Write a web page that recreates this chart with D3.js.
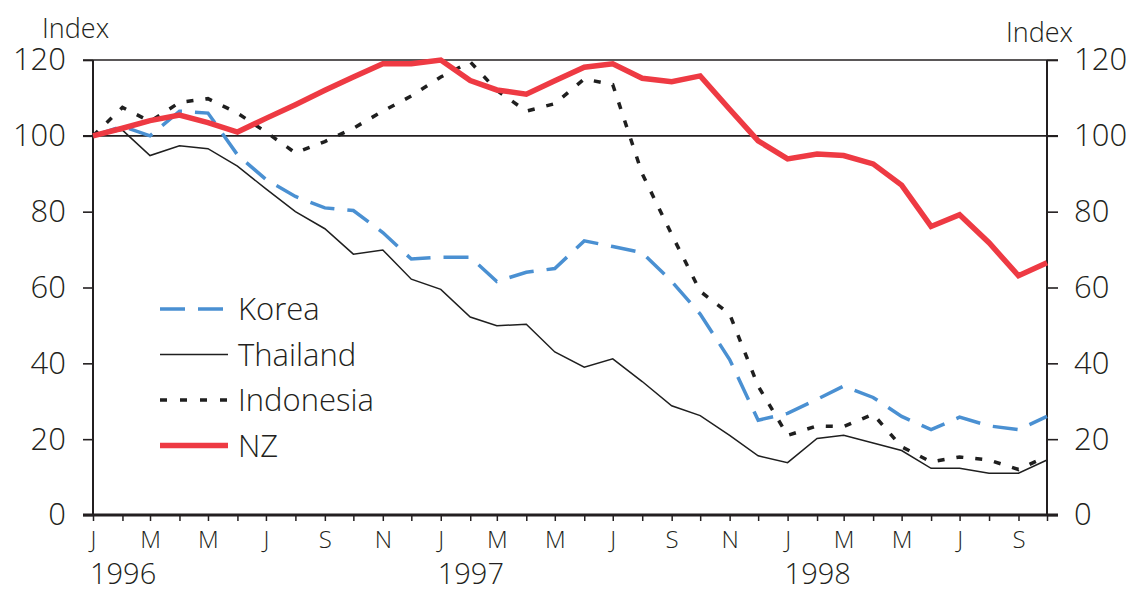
<!DOCTYPE html>
<meta charset="utf-8">
<script src="https://d3js.org/d3.v7.min.js"></script>
<style>
  body { margin: 0; background: #fff; }
  text { font-family: "Open Sans", "Lato", sans-serif; font-weight: 300; fill: #231f20; }
</style>
<div id="chart"></div>
<script>
  // monthly index, Jan 1996 = 100
  var korea = [100, 102.5, 100, 106.5, 106, 95, 88.5, 84, 81, 80.3, 74.5, 67.5, 68, 68, 61.6, 64, 65,
    72.3, 70.8, 69.2, 61.6, 53, 41, 25, 26.8, 30.5, 34, 31, 26, 22.5, 25.8, 23.5, 22.5, 26];
  var thailand = [100, 101.5, 94.8, 97.4, 96.6, 92, 86, 80, 75.5, 68.8, 69.9, 62.2, 59.5, 52.2, 49.9, 50.3, 43,
    39, 41.2, 35.2, 28.8, 26.2, 21, 15.6, 13.8, 20.2, 21, 19, 17, 12.3, 12.3, 11, 11, 14.5];
  var indonesia = [100, 107.5, 103.8, 108.8, 109.8, 106, 101, 95.5, 98.5, 102, 106.5, 110.5, 115.5, 119.5, 112, 106.5, 108.5,
    115, 113.5, 90, 74, 59, 53, 34, 21, 23.5, 23.3, 26.6, 18, 14, 15.3, 14.5, 12, 15.5];
  var nz = [100, 102, 104, 105.5, 103.5, 101, 104.6, 108.2, 112, 115.5, 119, 119, 120, 114.6, 112.1, 111, 114.5,
    118.1, 119, 115.2, 114.3, 115.8, 107, 98.7, 93.9, 95.2, 94.8, 92.6, 87, 76.1, 79.2, 71.8, 63.1, 66.5];

  var monthLetters = ["J", "F", "M", "A", "M", "J", "J", "A", "S", "O", "N", "D"];
  var years = [1996, 1997, 1998];
  var yTicks = [0, 20, 40, 60, 80, 100, 120];

  var months = d3.timeMonth.range(new Date(1996, 0, 1), new Date(1998, 10, 1));

  var series = [
    { name: "Korea", values: korea, color: "#4a90d2", width: 3.5, dash: "25,13" },
    { name: "Thailand", values: thailand, color: "#1f1f1f", width: 1.5, dash: null },
    { name: "Indonesia", values: indonesia, color: "#1f1f1f", width: 3.5, dash: "7,12" },
    { name: "NZ", values: nz, color: "#ee3a43", width: 5.5, dash: null }
  ];

  var W = 1131, H = 592;
  var margin = { top: 60, right: 84, bottom: 77, left: 93 };
  var width = W - margin.left - margin.right,
    height = H - margin.top - margin.bottom;

  var svg = d3.select("#chart").append("svg")
    .attr("width", W).attr("height", H);
  var g = svg.append("g")
    .attr("transform", "translate(" + margin.left + "," + margin.top + ")");

  var x = d3.scaleTime().domain([months[0], months[months.length - 1]]).range([0, width]);
  var y = d3.scaleLinear().domain([0, 120]).range([height, 0]);

  // horizontal reference lines at 100 and 120
  g.selectAll(".hline").data([100, 120]).enter().append("line")
    .attr("x1", -10).attr("x2", width + 11)
    .attr("y1", function (d) { return y(d); }).attr("y2", function (d) { return y(d); })
    .style("stroke", "#231f20").style("stroke-width", 1.6);

  // left axis
  var left = g.append("g").call(d3.axisLeft(y).tickValues(yTicks).tickSize(10).tickPadding(17));
  left.select(".domain").remove();
  left.selectAll("line").style("stroke", "#231f20").style("stroke-width", 1.6);
  left.selectAll("text").style("font-size", "31px");
  g.append("line").attr("x1", 0).attr("x2", 0).attr("y1", 0).attr("y2", height)
    .style("stroke", "#231f20").style("stroke-width", 2);

  // right axis
  var right = g.append("g").attr("transform", "translate(" + width + ",0)")
    .call(d3.axisRight(y).tickValues(yTicks).tickSize(11).tickPadding(16));
  right.select(".domain").remove();
  right.selectAll("line").style("stroke", "#231f20").style("stroke-width", 1.6);
  right.selectAll("text").style("font-size", "31px");
  g.append("line").attr("x1", width).attr("x2", width).attr("y1", 0).attr("y2", height)
    .style("stroke", "#231f20").style("stroke-width", 2);

  // bottom axis
  var bottom = g.append("g").attr("transform", "translate(0," + height + ")")
    .call(d3.axisBottom(x).tickValues(months).tickSize(6).tickPadding(10)
      .tickFormat(function (d, i) { return d.getMonth() % 2 == 0 ? monthLetters[d.getMonth()] : ""; }));
  bottom.select(".domain").remove();
  bottom.selectAll("line").style("stroke", "#231f20").style("stroke-width", 1.5);
  bottom.selectAll("text").style("font-size", "24px");
  g.append("line").attr("x1", -10).attr("x2", width + 11).attr("y1", height).attr("y2", height)
    .style("stroke", "#231f20").style("stroke-width", 3);

  g.selectAll(".year").data(years).enter().append("text")
    .attr("x", function (d) { return x(new Date(d, 0, 1)) - 3; })
    .attr("y", height + 69)
    .style("font-size", "29px")
    .text(function (d) { return d; });

  // unit labels
  g.append("text").attr("x", -51).attr("y", -22).style("font-size", "27px").text("Index");
  g.append("text").attr("x", width + 26).attr("y", -18).attr("text-anchor", "end")
    .style("font-size", "27px").text("Index");

  // lines
  var line = d3.line()
    .x(function (d, i) { return x(months[i]); })
    .y(function (d) { return y(d); });

  g.selectAll(".series").data(series).enter().append("path")
    .attr("d", function (d) { return line(d.values); })
    .style("fill", "none")
    .style("stroke", function (d) { return d.color; })
    .style("stroke-width", function (d) { return d.width; })
    .style("stroke-dasharray", function (d) { return d.dash; })
    .style("stroke-linejoin", "miter");

  // legend
  var legend = g.append("g").attr("transform", "translate(67,249)");
  var item = legend.selectAll(".item").data(series).enter().append("g")
    .attr("transform", function (d, i) { return "translate(0," + i * 45.5 + ")"; });
  item.append("line")
    .attr("x1", 0).attr("x2", function (d) { return d.name == "Korea" ? 63 : 68; })
    .attr("y1", 0).attr("y2", 0)
    .style("stroke", function (d) { return d.color; })
    .style("stroke-width", function (d) { return d.width; })
    .style("stroke-dasharray", function (d) { return d.name == "Indonesia" ? "7,13" : d.dash; });
  item.append("text")
    .attr("x", 78).attr("y", 11)
    .style("font-size", "31px")
    .text(function (d) { return d.name; });
</script>
